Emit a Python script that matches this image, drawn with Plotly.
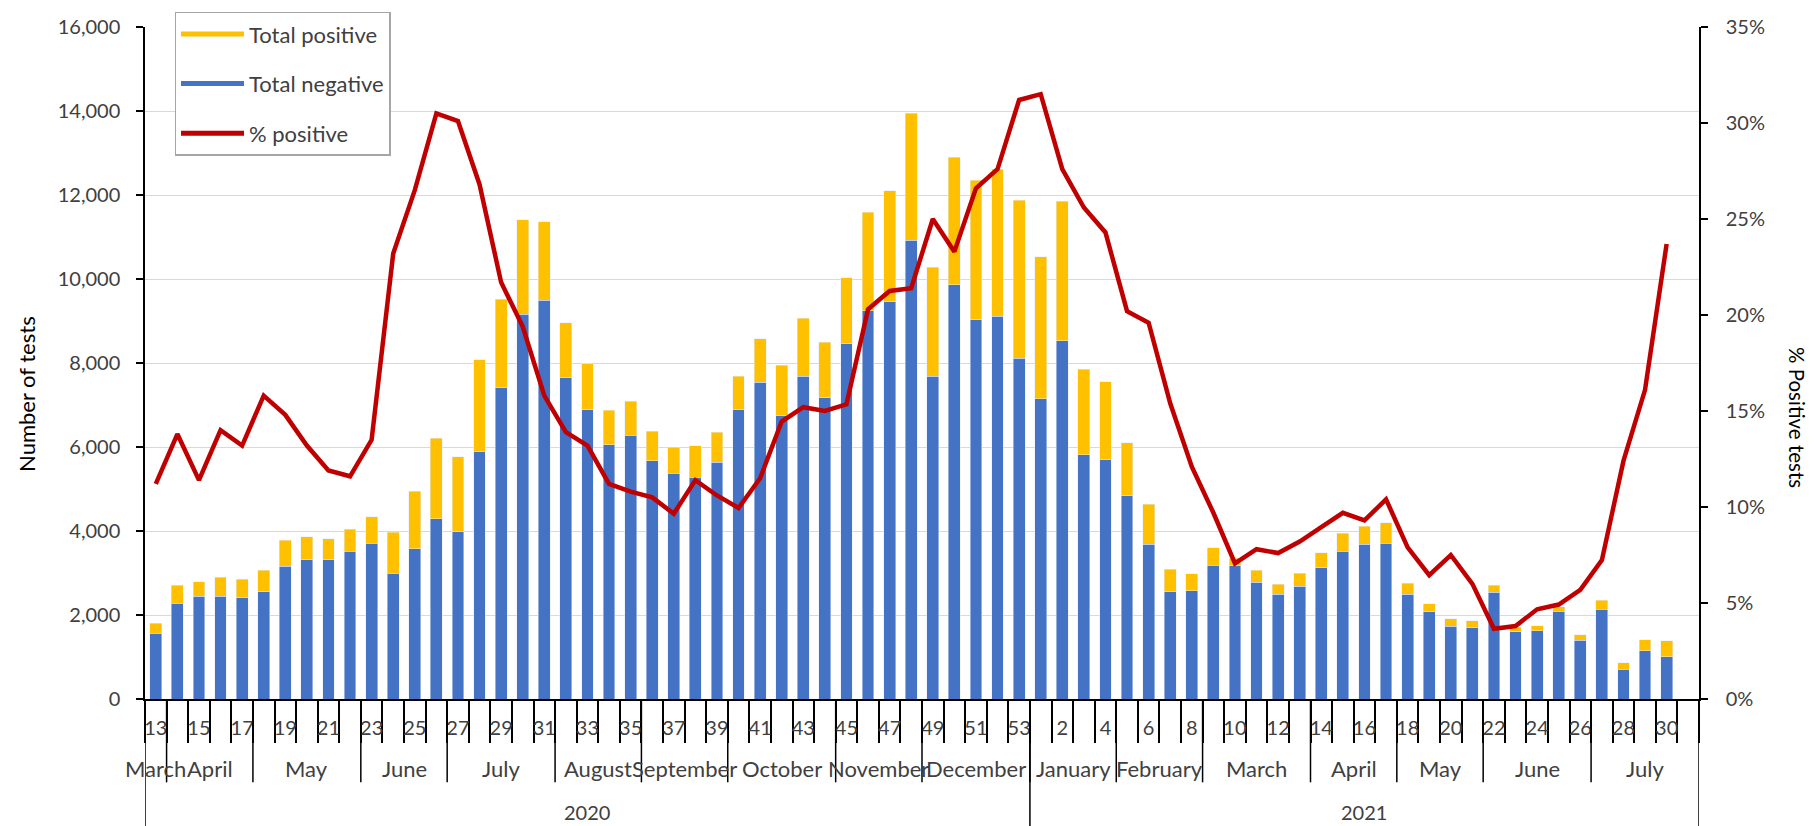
import plotly.graph_objects as go

# ---------------- data ----------------
weeks_2020 = list(range(13, 54))
weeks_2021 = list(range(1, 32))          # week 31 of 2021 has no data
week_labels = [str(w) for w in weeks_2020 + weeks_2021]

total_negative = [
    1561, 2279, 2445, 2445, 2413, 2555, 3162, 3320, 3320, 3517, 3714, 2997, 3580, 4290,
    3982, 5891, 7405, 9163, 9494, 7649, 6892, 6055, 6285, 5670, 5378, 5276, 5638, 6884,
    7547, 6743, 7681, 7176, 8454, 9250, 9463, 10922, 7681, 9858, 9029, 9108, 8115,
    7153, 8533, 5812, 5694, 4834, 3683, 2555, 2579, 3186, 3170, 2776, 2500, 2689, 3131,
    3517, 3683, 3706, 2500, 2082, 1727, 1695, 2547, 1601, 1624, 2090, 1404, 2137, 710,
    1143, 1009, None]

total_positive = [
    237, 434, 347, 457, 434, 513, 623, 544, 497, 521, 623, 978, 1364, 1916,
    1783, 2184, 2113, 2247, 1869, 1310, 1088, 815, 805, 710, 615, 749, 710, 805,
    1025, 1198, 1388, 1317, 1577, 2335, 2634, 3028, 2602, 3043, 3320, 3510, 3761,
    3375, 3320, 2042, 1861, 1262, 954, 536, 402, 410, 180, 292, 236, 300, 347,
    434, 426, 489, 260, 189, 181, 166, 166, 110, 119, 110, 126, 213, 157,
    269, 379, None]

pct_positive = [
    11.2, 13.8, 11.4, 14.0, 13.2, 15.8, 14.8, 13.2, 11.9, 11.6, 13.5, 23.2, 26.5, 30.5,
    30.1, 26.8, 21.7, 19.4, 15.8, 13.9, 13.2, 11.2, 10.8, 10.5, 9.65, 11.4, 10.6, 9.95,
    11.5, 14.45, 15.2, 15.0, 15.35, 20.3, 21.25, 21.4, 25.0, 23.3, 26.6, 27.6, 31.2,
    31.5, 27.6, 25.6, 24.3, 20.2, 19.6, 15.4, 12.1, 9.7, 7.06, 7.8, 7.6, 8.2, 8.95,
    9.7, 9.3, 10.4, 7.9, 6.45, 7.5, 6.0, 3.66, 3.8, 4.67, 4.92, 5.68, 7.23, 12.4,
    16.1, 23.7, None]

month_names = ["March", "April", "May", "June", "July", "August", "September",
               "October", "November", "December",
               "January", "February", "March", "April", "May", "June", "July"]
month_weeks = [1, 4, 5, 4, 5, 4, 4, 5, 4, 5,
               4, 4, 5, 4, 4, 5, 5]
year_names = ["2020", "2021"]
year_weeks = [41, 31]

# ---------------- styling ----------------
FONT = "Lato, 'Open Sans', sans-serif"
GRAY = "#404040"
BLUE = "#4472C4"
YELLOW = "#FFC000"
RED = "#C00000"

x = list(range(len(week_labels)))
pct = [None if v is None else v / 100 for v in pct_positive]

fig = go.Figure()
fig.add_trace(go.Bar(x=x, y=total_negative, name="Total negative", marker_color=BLUE,
                     showlegend=False))
fig.add_trace(go.Bar(x=x, y=total_positive, name="Total positive", marker_color=YELLOW,
                     showlegend=False))
fig.add_trace(go.Scatter(x=x, y=pct, name="% positive", mode="lines", yaxis="y2",
                         line=dict(color=RED, width=4.5), showlegend=False))

# legend entries (drawn as lines, like the original)
for nm, col, grp in [("Total positive", YELLOW, "a"), ("Total negative", BLUE, "b"),
                     ("% positive", RED, "c")]:
    fig.add_trace(go.Scatter(x=[None], y=[None], mode="lines", name=nm, legendgroup=grp,
                             line=dict(color=col, width=5), showlegend=True))

n = len(week_labels)
shapes = []
annotations = []

# month separators / labels
BOT_MONTH = -0.124
BOT_YEAR = -0.19
start = 0
for name, cnt in zip(month_names, month_weeks):
    center = start + (cnt - 1) / 2
    annotations.append(dict(x=center, y=-0.1035, xref="x", yref="paper", text=name,
                            showarrow=False, font=dict(family=FONT, size=22, color=GRAY),
                            xanchor="center", yanchor="middle"))
    start += cnt
    if start < n:
        shapes.append(dict(type="line", xref="x", yref="paper", x0=start - 0.5, x1=start - 0.5,
                           y0=0, y1=BOT_MONTH, line=dict(color="black", width=1.5)))

# year separators / labels
start = 0
shapes.append(dict(type="line", xref="x", yref="paper", x0=-0.5, x1=-0.5,
                   y0=0, y1=BOT_YEAR, line=dict(color="black", width=1.5)))
for name, cnt in zip(year_names, year_weeks):
    center = start + (cnt - 1) / 2
    annotations.append(dict(x=center, y=-0.1686, xref="x", yref="paper", text=name,
                            showarrow=False, font=dict(family=FONT, size=20, color=GRAY),
                            xanchor="center", yanchor="middle"))
    start += cnt
    shapes.append(dict(type="line", xref="x", yref="paper", x0=start - 0.5, x1=start - 0.5,
                       y0=0, y1=BOT_YEAR, line=dict(color="black", width=1.5)))

# axis titles
annotations.append(dict(x=-0.0759, y=0.454, xref="paper", yref="paper", text="Number of tests",
                        textangle=-90, showarrow=False, xanchor="center", yanchor="middle",
                        font=dict(family=FONT, size=22, color="black")))
annotations.append(dict(x=1.0629, y=0.4185, xref="paper", yref="paper", text="% Positive tests",
                        textangle=90, showarrow=False, xanchor="center", yanchor="middle",
                        font=dict(family=FONT, size=20.5, color="black")))

fig.update_layout(
    width=1816, height=826,
    margin=dict(l=145, r=117, t=23, b=127),
    paper_bgcolor="white", plot_bgcolor="white",
    barmode="stack", bargap=0.45,
    font=dict(family=FONT, size=20, color=GRAY),
    xaxis=dict(range=[-0.5, n - 0.5], tickmode="array",
               tickvals=[i for i in x if i % 2 == 0 and i < n - 1],
               ticktext=[week_labels[i] for i in x if i % 2 == 0 and i < n - 1],
               ticks="", ticklabelstandoff=10, showgrid=False, zeroline=False,
               showline=True, linecolor="black", linewidth=1.5,
               tickfont=dict(family=FONT, size=20, color=GRAY),
               minor=dict(tickmode="linear", tick0=-0.5, dtick=1, ticks="outside",
                          ticklen=42, tickwidth=1.5, tickcolor="black", showgrid=False)),
    yaxis=dict(range=[0, 16000], dtick=2000, tickformat=",", showgrid=True,
               gridcolor="#D9D9D9", gridwidth=1.3, zeroline=False,
               showline=True, linecolor="black", linewidth=1.5,
               ticks="outside", ticklen=7, tickwidth=1.5, tickcolor="black",
               ticklabelstandoff=12, tickfont=dict(family=FONT, size=20, color=GRAY)),
    yaxis2=dict(range=[0, 0.35], dtick=0.05, tickformat=".0%", overlaying="y", side="right",
                showgrid=False, zeroline=False, showline=True, linecolor="black",
                linewidth=1.5, ticks="outside", ticklen=7, tickwidth=1.5, tickcolor="black",
                ticklabelstandoff=14, tickfont=dict(family=FONT, size=20, color=GRAY)),
    legend=dict(x=0.019, y=1.0228, xanchor="left", yanchor="top",
                bgcolor="white", bordercolor="#A6A6A6", borderwidth=1.5,
                traceorder="grouped", tracegroupgap=18, itemwidth=63,
                font=dict(family=FONT, size=22, color=GRAY)),
    shapes=shapes,
    annotations=annotations,
)

fig.write_html("out.html", config={"displayModeBar": False},
               post_script="document.body.style.margin='0';")
